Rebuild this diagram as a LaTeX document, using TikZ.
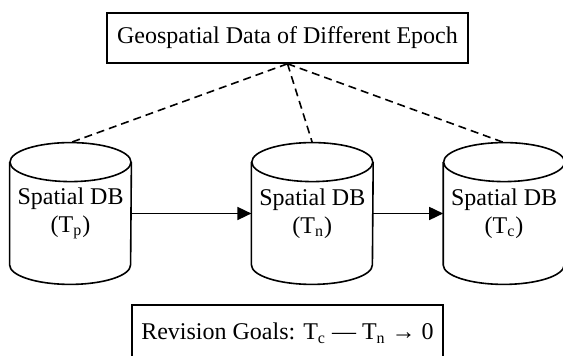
\documentclass[tikz,border=0pt]{standalone}
\usepackage{fontspec}
\setmainfont{Liberation Serif}
\usetikzlibrary{arrows.meta, positioning}
\tikzstyle{block} = [rectangle,draw,line width=0.8pt,text centered,inner sep=2pt]
\tikzstyle{dbbody} = [rectangle,align=center,inner sep=0pt,minimum width=60.5pt,minimum height=51pt]
\tikzstyle{link} = [dashed,dash pattern=on 4pt off 2.5pt,line width=0.8pt]

\begin{document}
\begin{tikzpicture}[font=\fontsize{12}{14}\selectfont,>={Triangle[length=7pt,width=6.5pt]}]
\useasboundingbox (0,0) rectangle (281.5pt,-178pt);
\node [block,minimum width=180.5pt,minimum height=25pt](epoch) at (143.75pt,-19pt){Geospatial Data of Different Epoch};
\node [dbbody](db1) at (35.25pt,-106.75pt){Spatial DB\\(T\textsubscript{p})};
\node [dbbody,right=60pt of db1](db2){Spatial DB\\(T\textsubscript{n})};
\node [dbbody,right=35pt of db2](db3){Spatial DB\\(T\textsubscript{c})};
\node [block,minimum width=155.5pt,minimum height=28pt](goal) at (143.75pt,-166.5pt){Revision Goals: T\textsubscript{c} — T\textsubscript{n} → 0};

% cylinder outlines round the three bodies
\foreach \db in {db1,db2,db3}{
  \draw[line width=0.8pt](\db.north) ellipse [x radius=30.25pt,y radius=9.75pt];
  \draw[line width=0.8pt](\db.north west)--(\db.south west) arc[start angle=180,end angle=360,x radius=30.25pt,y radius=9.75pt]--(\db.north east);
}

\draw[link](epoch.south)--([yshift=9.75pt]db1.north);
\draw[link](epoch.south)--([yshift=9.75pt]db2.north);
\draw[link](epoch.south)--([yshift=9.75pt]db3.north);
\draw[->,line width=0.8pt](db1)--(db2);
\draw[->,line width=0.8pt](db2)--(db3);

\end{tikzpicture}
\end{document}
